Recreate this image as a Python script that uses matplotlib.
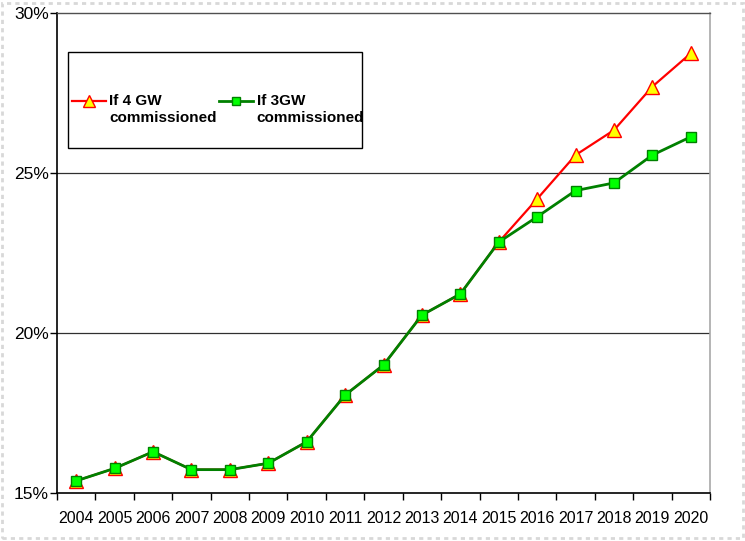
import matplotlib
matplotlib.use("Agg")
import matplotlib.pyplot as plt
from matplotlib.patches import Rectangle
import numpy as np

plt.rcParams['font.family'] = ['Liberation Sans', 'DejaVu Sans']

years = ["2004", "2005", "2006", "2007", "2008", "2009", "2010", "2011", "2012",
         "2013", "2014", "2015", "2016", "2017", "2018", "2019", "2020"]
share_4gw = [15.38, 15.77, 16.29, 15.73, 15.73, 15.93, 16.60, 18.06, 19.00,
             20.56, 21.22, 22.84, 24.19, 25.56, 26.34, 27.70, 28.74]
share_3gw = [15.38, 15.77, 16.29, 15.73, 15.73, 15.93, 16.60, 18.06, 19.00,
             20.56, 21.22, 22.84, 23.63, 24.45, 24.69, 25.56, 26.13]
labels = ["If 4 GW\ncommissioned", "If 3GW\ncommissioned"]
yticks = [15, 20, 25, 30]

W, H = 745, 541
fig = plt.figure(figsize=(W / 100, H / 100), dpi=100)
ax = fig.add_axes([57 / W, (H - 493) / H, 653 / W, 480 / H])

x = np.arange(len(years))
l1, = ax.plot(x, share_4gw, color="#FF0000", lw=1.6, marker="^", markersize=10,
              markerfacecolor="#FFFF00", markeredgecolor="#FF0000", markeredgewidth=1.0,
              zorder=3)
l2, = ax.plot(x, share_3gw, color="#008000", lw=2.0, marker="s", markersize=7,
              markerfacecolor="#00FF00", markeredgecolor="#008000", markeredgewidth=1.0,
              zorder=4)

ax.set_xlim(-0.5, len(years) - 0.5)
ax.set_ylim(15, 30)
ax.set_yticks(yticks)
ax.set_yticklabels([f"{v}%" for v in yticks], fontsize=12.5)
ax.set_xticks(x)
ax.set_xticklabels(years, fontsize=11.5)
ax.set_xticks(np.arange(-0.5, len(years), 1.0), minor=True)
ax.tick_params(axis="x", which="major", length=0, pad=13)
ax.tick_params(axis="x", which="minor", length=5, width=1, color="black", direction="out")
ax.tick_params(axis="y", which="major", length=5, width=1, color="black", direction="out", pad=1)

for v in [20, 25]:
    ax.axhline(v, color="#303030", lw=0.9, zorder=1)

ax.spines["left"].set_color("black")
ax.spines["bottom"].set_color("black")
ax.spines["left"].set_linewidth(1.2)
ax.spines["bottom"].set_linewidth(1.2)
ax.spines["top"].set_color("#505050")
ax.spines["right"].set_color("#a8a8a8")
ax.spines["top"].set_linewidth(1.0)
ax.spines["right"].set_linewidth(1.2)

# legend frame box
box = Rectangle((68 / W, (H - 148) / H), (362 - 68) / W, 96 / H, transform=fig.transFigure,
                fill=True, facecolor="white", edgecolor="black", lw=1.0, zorder=5,
                clip_on=False)
ax.add_patch(box)

leg = ax.legend([l1, l2], labels, ncol=2, frameon=False,
                loc="center left", bbox_to_anchor=(72 / W, (H - 111) / H),
                bbox_transform=fig.transFigure,
                prop={"weight": "bold", "size": 11},
                handlelength=2.2, handletextpad=0.25, columnspacing=0.15,
                borderpad=0, borderaxespad=0, handleheight=4.6, markerscale=0.85)
for t in leg.get_texts():
    t.set_linespacing(1.32)
leg.set_zorder(6)

# dashed image border
border = Rectangle((2 / W, 3 / H), (743 - 2) / W, (H - 6) / H, transform=fig.transFigure,
                   fill=False, edgecolor="#d8d8d8", lw=2, ls=(0, (1.5, 1.5)), zorder=0)
fig.patches.append(border)

fig.savefig("out.png", dpi=100)
